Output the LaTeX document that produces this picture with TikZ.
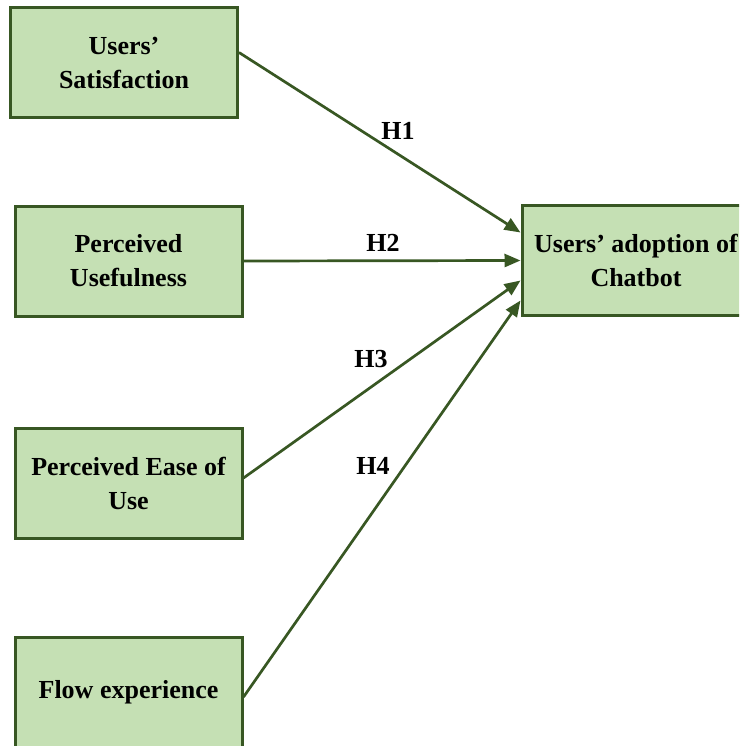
\documentclass[tikz,border=0pt]{standalone}
\usepackage{fontspec}
\setmainfont{Liberation Serif}
\usetikzlibrary{arrows.meta,positioning}
\definecolor{tamfill}{RGB}{197,224,180}
\definecolor{tamline}{RGB}{56,87,35}

\begin{document}
\begin{tikzpicture}[x=1pt,y=-1pt,>={Triangle[length=16pt,width=13pt]},
        font=\fontsize{26}{34}\selectfont\bfseries,
        construct/.style={draw=tamline,fill=tamfill,line width=3pt,align=center,
          minimum width=227pt,minimum height=110pt,inner sep=2pt},
        path/.style={->,draw=tamline,line width=2.7pt},
        hyp/.style={inner sep=0pt}]
        \useasboundingbox (0,0) rectangle (739,746);
        \clip (0,0) rectangle (739,746);
        \node[construct] (sat) at (124,62.5) {Users'\\Satisfaction};
        \node[construct] (pu) at (128.5,261) {Perceived\\Usefulness};
        \node[construct] (peou) at (128.5,483) {Perceived Ease of\\Use};
        \node[construct] (flow) at (128.5,692) {Flow experience};
        \node[construct,minimum width=228pt] (chat) at (636,260.5) {Users' adoption of\\Chatbot};
        % hypotheses
        \draw[path] ([yshift=10pt]sat.east) -- ([yshift=28pt]chat.west);
        \draw[path] (pu.east) -- (chat.west);
        \draw[path] ([yshift=5pt]peou.east) -- ([yshift=-20pt]chat.west);
        \draw[path] ([yshift=-5pt]flow.east) -- ([yshift=-40pt]chat.west);
        \node[hyp] (h1) at (398,131) {H1};
        \node[hyp] (h2) at (383,243) {H2};
        \node[hyp] (h3) at (371,359) {H3};
        \node[hyp] (h4) at (373,466) {H4};
      \end{tikzpicture}
\end{document}
